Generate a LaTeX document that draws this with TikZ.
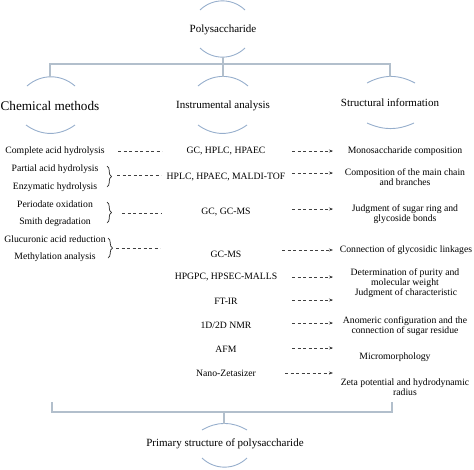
\documentclass[tikz,border=0pt]{standalone}
\usepackage{fontspec}
\setmainfont{Liberation Serif}
\usetikzlibrary{arrows.meta}
\usetikzlibrary{decorations.pathreplacing}

\definecolor{treegray}{RGB}{178,191,204}
\definecolor{arcblue}{RGB}{150,174,204}

\begin{document}
\begin{tikzpicture}[x=1pt, y=-1pt,
    every node/.style={inner sep=0pt, align=center, font=\fontsize{9.7}{10.3}\selectfont},
    head/.style={font=\fontsize{11}{13}\selectfont},
    tree/.style={draw=treegray, line width=1.1pt},
    ring/.style={draw=arcblue, line width=0.9pt},
    dashline/.style={draw=black!75, line width=0.6pt, dash pattern=on 3.2pt off 2.3pt},
    dasharrow/.style={dashline, -{Stealth[length=4pt, width=3pt]}},
    bracer/.style={draw=black!85, line width=0.7pt, decorate, decoration={brace, amplitude=4.5pt}}]
  \useasboundingbox (0,0) rectangle (474,469);

  % Nodos
  \node[head] (poly) at (223,30) {Polysaccharide};
  \node[font=\fontsize{13.2}{15}\selectfont] (chem) at (50,106) {Chemical methods};
  \node[head] (inst) at (223,106) {Instrumental analysis};
  \node[head] (stru) at (390,103) {Structural information};
  \node[head] (prim) at (225,444) {Primary structure of polysaccharide};

  \node (c1) at (55,151) {Complete acid hydrolysis};
  \node (c2) at (55,169) {Partial acid hydrolysis};
  \node (c3) at (55,187) {Enzymatic hydrolysis};
  \node (c4) at (55,204) {Periodate oxidation};
  \node (c5) at (55,222) {Smith degradation};
  \node (c6) at (55,239) {Glucuronic acid reduction};
  \node (c7) at (55,257) {Methylation analysis};

  \node (m1) at (226,151) {GC, HPLC, HPAEC};
  \node (m2) at (226,177) {HPLC, HPAEC, MALDI-TOF};
  \node (m3) at (226,212) {GC, GC-MS};
  \node (m4) at (226,254) {GC-MS};
  \node (m5) at (226,277) {HPGPC, HPSEC-MALLS};
  \node (m6) at (226,301) {FT-IR};
  \node (m7) at (226,325) {1D/2D NMR};
  \node (m8) at (226,349) {AFM};
  \node (m9) at (226,373) {Nano-Zetasizer};

  \node (s1) at (405,151) {Monosaccharide composition};
  \node (s2) at (405,177) {Composition of the main chain\\and branches};
  \node (s3) at (405,214) {Judgment of sugar ring and\\glycoside bonds};
  \node (s4) at (406,250) {Connection of glycosidic linkages};
  \node (s5) at (405,278) {Determination of purity and\\molecular weight};
  \node (s6) at (406,293) {Judgment of characteristic};
  \node (s7) at (405,326) {Anomeric configuration and the\\connection of sugar residue};
  \node (s8) at (395,357) {Micromorphology};
  \node (s9) at (405,387) {Zeta potential and hydrodynamic\\radius};

  % Arcos
  \foreach \xa/\xb/\y/\side/\ang in {200/245/10/left/44, 200/245/48/right/44,
      27/75/86/left/41, 198/248/86/left/41, 367/415/83/left/28,
      26/75/125/right/36, 198/247/125/right/36, 367/414/123/right/24,
      202/247/430/left/30, 202/247/458/right/44}
    \draw[ring] (\xa,\y) to[bend \side=\ang] (\xb,\y);

  % Arbol
  \coordinate (polyb) at (223,57);
  \coordinate (hub) at (223,64);
  \coordinate (chemt) at (50,77);
  \coordinate (instt) at (223,77);
  \coordinate (strut) at (390,77);
  \draw[tree] (polyb) -- (hub);
  \draw[tree] (chemt) |- (hub) -| (strut);
  \draw[tree] (hub) -- (instt);

  \coordinate (bl) at (52,402);
  \coordinate (br) at (392,402);
  \coordinate (bhub) at (224,412);
  \coordinate (primt) at (224,424);
  \draw[tree] (bl) |- (bhub) -| (br);
  \draw[tree] (bhub) -- (primt);

  % Llaves
  \draw[bracer] (107,166) -- (107,187);
  \draw[bracer] (107,202) -- (107,223);
  \draw[bracer] (108,238) -- (108,258);

  % Lineas
  \foreach \xa/\xb/\y [count=\i] in {118/162/151, 117/161/175, 122/162/213, 116/160/248}{
    \coordinate (la\i) at (\xa,\y);
    \coordinate (lb\i) at (\xb,\y);
    \draw[dashline] (la\i) -- (lb\i);
  }
  \foreach \xa/\y [count=\i] in {292/151, 292/173, 292/209, 282/250, 292/277,
      292/300, 292/323, 292/348, 285/373}{
    \coordinate (aa\i) at (\xa,\y);
    \coordinate (ab\i) at (333,\y);
    \draw[dasharrow] (aa\i) -- (ab\i);
  }
\end{tikzpicture}
\end{document}
